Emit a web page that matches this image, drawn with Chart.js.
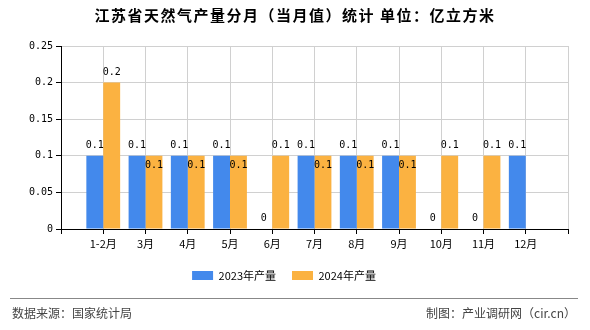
<!DOCTYPE html>
<html>
<head>
<meta charset="utf-8">
<script src="https://cdn.jsdelivr.net/npm/chart.js@4"></script>
<style>
  body { margin: 0; background: #fff; }
  #wrap { position: relative; width: 590px; height: 330px; overflow: hidden; font-family: "Noto Sans CJK SC", sans-serif; }
  #chart { position: absolute; left: 0; top: 0; }
  #title { position: absolute; left: 0; top: 5px; width: 590px; text-align: center; font-size: 15px; font-weight: bold; letter-spacing: 1.5px; color: #000; line-height: 20px; }
  #rule { position: absolute; left: 10px; top: 298px; width: 568px; height: 0; border-top: 1px solid #888; }
  .foot { position: absolute; top: 305px; font-size: 12px; color: #444; line-height: 16px; }
  #src { left: 12px; }
  #by { right: 14px; }
</style>
</head>
<body>
<div id="wrap">
  <canvas id="chart" width="590" height="330"></canvas>
  <div id="title">江苏省天然气产量分月（当月值）统计 单位：亿立方米</div>
  <div id="rule"></div>
  <div class="foot" id="src">数据来源：国家统计局</div>
  <div class="foot" id="by">制图：产业调研网（cir.cn）</div>
</div>
<script>
const months = ['1-2月', '3月', '4月', '5月', '6月', '7月', '8月', '9月', '10月', '11月', '12月'];
const output2023 = [0.1, 0.1, 0.1, 0.1, 0, 0.1, 0.1, 0.1, 0, 0, 0.1];
const output2024 = [0.2, 0.1, 0.1, 0.1, 0.1, 0.1, 0.1, 0.1, 0.1, 0.1, null];
const yTicks = [0, 0.05, 0.1, 0.15, 0.2, 0.25];

const monoFont = '"DejaVu Sans Mono", monospace';
const cjkFont = '"Noto Sans CJK SC", sans-serif';

// months sit at x = 1..11 on a numeric axis running 0..12,
// which leaves a full empty slot at each end
const toPoints = arr => arr.map((v, i) => ({ x: i + 1, y: v }));

// value labels over each bar; the 2024 label drops inside the bar
// when the 2023 bar next to it has the same height
const barLabels = {
    id: 'barLabels',
    afterDatasetsDraw(chart) {
        const ctx = chart.ctx;
        ctx.save();
        ctx.font = '10px ' + monoFont;
        ctx.fillStyle = '#000';
        ctx.textAlign = 'center';
        ctx.textBaseline = 'alphabetic';
        chart.data.datasets.forEach((ds, di) => {
            const meta = chart.getDatasetMeta(di);
            meta.data.forEach((bar, i) => {
                const v = ds.data[i].y;
                if (v === null || v === undefined) return;
                let y = bar.y - 8;
                if (di === 1) {
                    const other = chart.data.datasets[0].data[i].y;
                    if (other === v) y = bar.y + 12;
                }
                ctx.fillText(String(v), bar.x, y);
            });
        });
        ctx.restore();
    }
};

new Chart(document.getElementById('chart').getContext('2d'), {
    type: 'bar',
    data: {
        datasets: [{
            label: '2023年产量',
            data: toPoints(output2023),
            backgroundColor: '#4389ec',
            categoryPercentage: 0.8,
            barPercentage: 1
        }, {
            label: '2024年产量',
            data: toPoints(output2024),
            backgroundColor: '#fbb241',
            categoryPercentage: 0.8,
            barPercentage: 1
        }]
    },
    plugins: [barLabels],
    options: {
        responsive: false,
        animation: false,
        layout: { padding: { top: 46, right: 22, bottom: 39, left: 0 } },
        plugins: {
            title: { display: false },
            tooltip: { enabled: false },
            legend: {
                position: 'bottom',
                labels: {
                    boxWidth: 21,
                    boxHeight: 9,
                    padding: 16,
                    color: '#000',
                    font: { family: cjkFont, size: 11 }
                }
            }
        },
        scales: {
            x: {
                type: 'linear',
                min: 0,
                max: months.length + 1,
                offset: false,
                afterFit(scale) { scale.height = 25; },
                border: { color: '#000', width: 1 },
                grid: {
                    offset: false,
                    color: '#d0d0d0',
                    tickColor: '#000',
                    tickLength: 5
                },
                ticks: {
                    stepSize: 1,
                    autoSkip: false,
                    maxRotation: 0,
                    color: '#000',
                    padding: 3,
                    font: { family: cjkFont, size: 11 },
                    callback: v => months[v - 1] || ''
                }
            },
            y: {
                min: 0,
                max: 0.25,
                afterFit(scale) { scale.width = 61; },
                afterBuildTicks(scale) { scale.ticks = yTicks.map(v => ({ value: v })); },
                border: { color: '#000', width: 1 },
                grid: {
                    color: '#d0d0d0',
                    tickColor: '#000',
                    tickLength: 5
                },
                ticks: {
                    color: '#000',
                    padding: 3,
                    font: { family: monoFont, size: 10 },
                    callback: v => String(v)
                }
            }
        }
    }
});
</script>
</body>
</html>
